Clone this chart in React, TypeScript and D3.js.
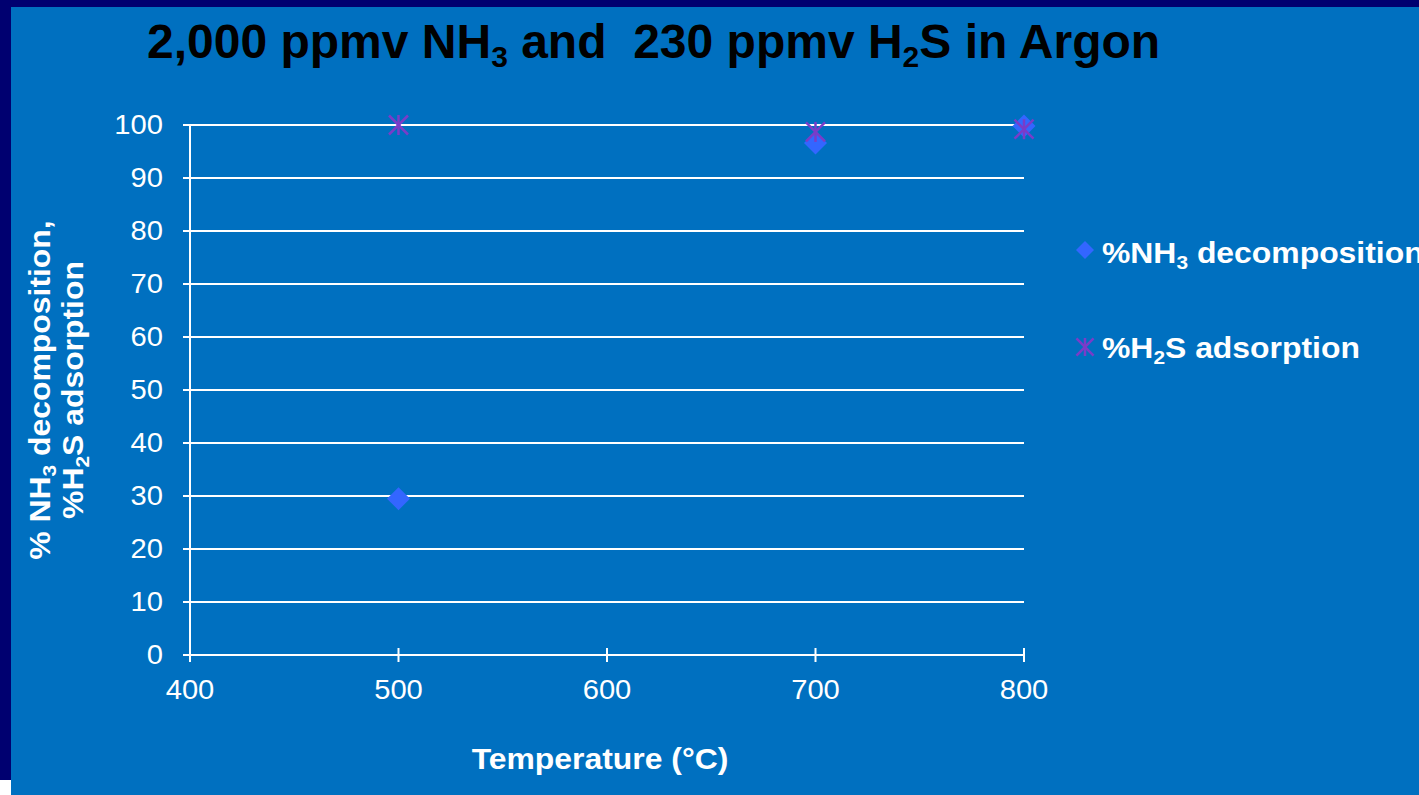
import React from "react";
import * as d3 from "d3";

const temps = [500, 700, 800];
const nh3Decomposition = [29.5, 96.6, 99.8];
const h2sAdsorption = [100, 98.7, 99.2];
const xTicks = [400, 500, 600, 700, 800];
const yTicks = [0, 10, 20, 30, 40, 50, 60, 70, 80, 90, 100];

const W = 1419;
const H = 795;
const FONT = "'Liberation Sans', Arial, sans-serif";
const BG = "#0070C0";
const DIAMOND = "#3366FF";
const STAR = "#7A3CC8";

function Diamond({ x, y, r }: { x: number; y: number; r: number }) {
  return <path d={`M${x},${y - r}L${x + r},${y}L${x},${y + r}L${x - r},${y}Z`} fill={DIAMOND} />;
}

function Star({ x, y, r }: { x: number; y: number; r: number }) {
  const d = r * 0.95;
  return (
    <g stroke={STAR} strokeWidth={2.5}>
      <line x1={x} y1={y - r} x2={x} y2={y + r} />
      <line x1={x - d} y1={y - d} x2={x + d} y2={y + d} />
      <line x1={x - d} y1={y + d} x2={x + d} y2={y - d} />
    </g>
  );
}

export default function App() {
  const x = d3.scaleLinear().domain([400, 800]).range([190, 1024]);
  const y = d3.scaleLinear().domain([0, 100]).range([655, 125]);
  const SX = 1.08;
  return (
    <div style={{ position: "fixed", left: 0, top: 0, width: W, height: H }}>
      <svg width={W} height={H} style={{ display: "block" }}>
        <rect x={0} y={0} width={W} height={H} fill={BG} />
        <rect x={0} y={0} width={W} height={7} fill="#000070" />
        <rect x={0} y={0} width={11} height={780} fill="#000070" />
        <rect x={0} y={780} width={11} height={H - 780} fill="#ffffff" />

        {/* Title */}
        <text x={147} y={58} fontFamily={FONT} fontWeight="bold" fontSize={48} fill="#000" style={{ whiteSpace: "pre" }}>
          2,000 ppmv NH<tspan fontSize={30} dy={9}>3</tspan>
          <tspan dy={-9}>{" and  230 ppmv H"}</tspan>
          <tspan fontSize={30} dy={9}>2</tspan>
          <tspan dy={-9}>S in Argon</tspan>
        </text>

        {/* Gridlines */}
        {yTicks.map((t) => (
          <g key={t}>
            <line x1={183} x2={1024} y1={y(t)} y2={y(t)} stroke="#fff" strokeWidth={2} />
            <g transform={`translate(163,${y(t)}) scale(${SX},1)`}>
              <text x={0} y={0} dy="0.35em" textAnchor="end" fontFamily={FONT} fontSize={27} fill="#fff">
                {t}
              </text>
            </g>
          </g>
        ))}
        <line x1={x(400)} x2={x(400)} y1={y(100)} y2={y(0) + 7} stroke="#fff" strokeWidth={2} />
        {xTicks.map((t) => (
          <g key={t}>
            <line x1={x(t)} x2={x(t)} y1={y(0) - 7} y2={y(0) + 7} stroke="#fff" strokeWidth={2} />
            <g transform={`translate(${x(t)},${y(0) + 44}) scale(${SX},1)`}>
              <text x={0} y={0} textAnchor="middle" fontFamily={FONT} fontSize={27} fill="#fff">
                {t}
              </text>
            </g>
          </g>
        ))}

        {/* Data */}
        {temps.map((t, i) => (
          <Diamond key={"d" + t} x={x(t)} y={y(nh3Decomposition[i])} r={11.5} />
        ))}
        {temps.map((t, i) => (
          <Star key={"s" + t} x={x(t)} y={y(h2sAdsorption[i])} r={10} />
        ))}

        {/* Y title */}
        <g transform="translate(50,390) rotate(-90) scale(1.1,1)">
          <text x={0} y={0} textAnchor="middle" fontFamily={FONT} fontWeight="bold" fontSize={29} fill="#fff">
            % NH<tspan fontSize={19} dy={6}>3</tspan>
            <tspan dy={-6}> decomposition,</tspan>
          </text>
          <text x={0} y={33} textAnchor="middle" fontFamily={FONT} fontWeight="bold" fontSize={29} fill="#fff">
            %H<tspan fontSize={19} dy={6}>2</tspan>
            <tspan dy={-6}>S adsorption</tspan>
          </text>
        </g>

        {/* X title */}
        <g transform="translate(600,769) scale(1.1,1)">
          <text x={0} y={0} textAnchor="middle" fontFamily={FONT} fontWeight="bold" fontSize={29} fill="#fff">
            Temperature (°C)
          </text>
        </g>

        {/* Legend */}
        <Diamond x={1085} y={250} r={9} />
        <g transform="translate(1102,263) scale(1.1,1)">
          <text x={0} y={0} fontFamily={FONT} fontWeight="bold" fontSize={29} fill="#fff">
            %NH<tspan fontSize={19} dy={6}>3</tspan>
            <tspan dy={-6}> decomposition</tspan>
          </text>
        </g>
        <Star x={1085} y={347} r={9} />
        <g transform="translate(1102,358) scale(1.1,1)">
          <text x={0} y={0} fontFamily={FONT} fontWeight="bold" fontSize={29} fill="#fff">
            %H<tspan fontSize={19} dy={6}>2</tspan>
            <tspan dy={-6}>S adsorption</tspan>
          </text>
        </g>
      </svg>
    </div>
  );
}
